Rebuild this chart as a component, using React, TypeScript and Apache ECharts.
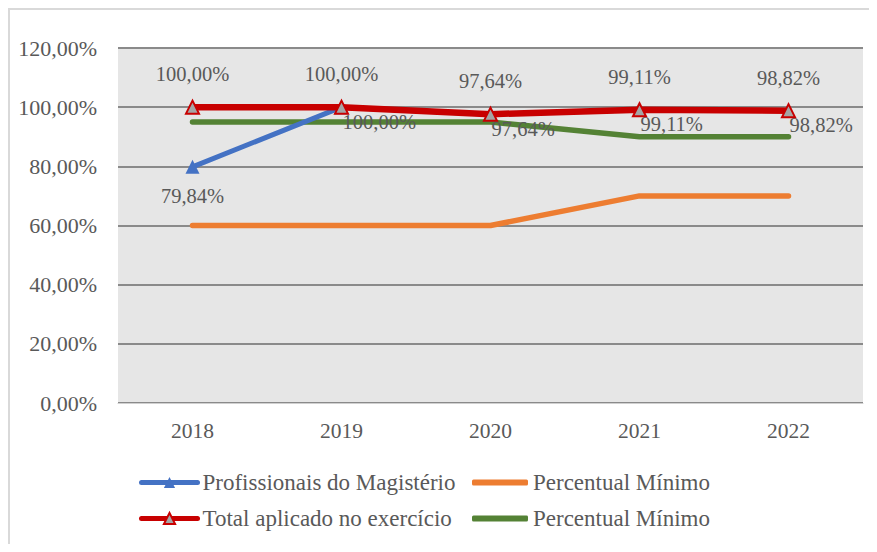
import React, { useEffect, useRef } from "react";
import * as echarts from "echarts";

const years = ["2018", "2019", "2020", "2021", "2022"];
const magisterio = [79.84, 100.0, 97.64, 99.11, 98.82];
const totalAplicado = [100.0, 100.0, 97.64, 99.11, 98.82];
const minimoLaranja = [60, 60, 60, 70, 70];
const minimoVerde = [95, 95, 95, 90, 90];

const nameBlue = "Profissionais do Magistério";
const nameRed = "Total aplicado no exercício";
const nameOrange = "Percentual Mínimo";
const nameGreen = "Percentual Mínimo ";

const FONT = "Times New Roman, Liberation Serif, serif";
const TXT = "#595959";
const fmt = (v: number) => v.toFixed(2).replace(".", ",") + "%";

export default function App() {
  const ref = useRef<HTMLDivElement>(null);
  useEffect(() => {
    if (!ref.current) return;
    const chart = echarts.init(ref.current, undefined, { renderer: "svg" });
    const labelBase = {
      show: true,
      color: TXT,
      fontFamily: FONT,
      fontSize: 20.5,
      formatter: (p: any) => fmt(p.value),
    };
    chart.setOption({
      animation: false,
      textStyle: { fontFamily: FONT, color: TXT },
      grid: {
        left: 108,
        right: 6,
        top: 38,
        bottom: 141,
        show: true,
        backgroundColor: "#E6E6E6",
        borderWidth: 0,
      },
      xAxis: {
        type: "category",
        data: years,
        boundaryGap: true,
        axisLine: { show: true, lineStyle: { color: "#D0D0D0", width: 1 } },
        axisTick: { show: false },
        axisLabel: { color: TXT, fontFamily: FONT, fontSize: 21.5, margin: 17 },
      },
      yAxis: {
        type: "value",
        min: 0,
        max: 120,
        interval: 20,
        axisLine: { show: false },
        axisTick: { show: false },
        splitLine: { lineStyle: { color: "#8A8A8A", width: 2 } },
        axisLabel: {
          color: TXT,
          fontFamily: FONT,
          fontSize: 22,
          margin: 21,
          formatter: (v: number) => fmt(v),
        },
      },
      legend: [
        {
          orient: "vertical",
          left: 124,
          top: 456,
          itemWidth: 56,
          itemHeight: 14,
          itemGap: 13,
          lineStyle: { width: 5 },
          data: [nameBlue, nameRed],
          textStyle: { color: TXT, fontFamily: FONT, fontSize: 23 },
          formatter: (n: string) => n.trim(),
        },
        {
          orient: "vertical",
          left: 457,
          top: 456,
          itemWidth: 56,
          itemHeight: 6,
          itemGap: 13,
          icon: "roundRect",
          data: [nameOrange, nameGreen],
          textStyle: { color: TXT, fontFamily: FONT, fontSize: 23 },
          formatter: (n: string) => n.trim(),
        },
      ],
      series: [
        {
          name: nameGreen,
          type: "line",
          data: minimoVerde,
          symbol: "none",
          z: 1,
          lineStyle: { color: "#548235", width: 5.5, cap: "round", join: "round" },
          itemStyle: { color: "#548235" },
        },
        {
          name: nameOrange,
          type: "line",
          data: minimoLaranja,
          symbol: "none",
          z: 1,
          lineStyle: { color: "#ED7D31", width: 5.5, cap: "round", join: "round" },
          itemStyle: { color: "#ED7D31" },
        },
        {
          name: nameBlue,
          type: "line",
          z: 2,
          symbol: "triangle",
          symbolSize: 14,
          lineStyle: { color: "#4472C4", width: 5, cap: "round", join: "round" },
          itemStyle: { color: "#4472C4" },
          data: magisterio.map((v, i) => ({
            value: v,
            label:
              i === 0
                ? { ...labelBase, position: "bottom", distance: 12 }
                : {
                    ...labelBase,
                    position: [8, 11],
                    align: "left",
                    verticalAlign: "top",
                  },
          })),
        },
        {
          name: nameRed,
          type: "line",
          z: 3,
          symbol: "triangle",
          symbolSize: 13,
          lineStyle: { color: "#C80000", width: 6.5, cap: "round", join: "round" },
          itemStyle: { color: "#A5A5A5", borderColor: "#C80000", borderWidth: 2 },
          label: { ...labelBase, position: "top", distance: 15 },
          data: totalAplicado,
        },
      ],
    });
    return () => chart.dispose();
  }, []);
  return (
    <div
      style={{
        borderLeft: "2px solid #D9D9D9",
        borderTop: "2px solid #D9D9D9",
        width: 859,
        height: 534,
      }}
    >
      <div ref={ref} style={{ width: 859, height: 534 }} />
    </div>
  );
}
